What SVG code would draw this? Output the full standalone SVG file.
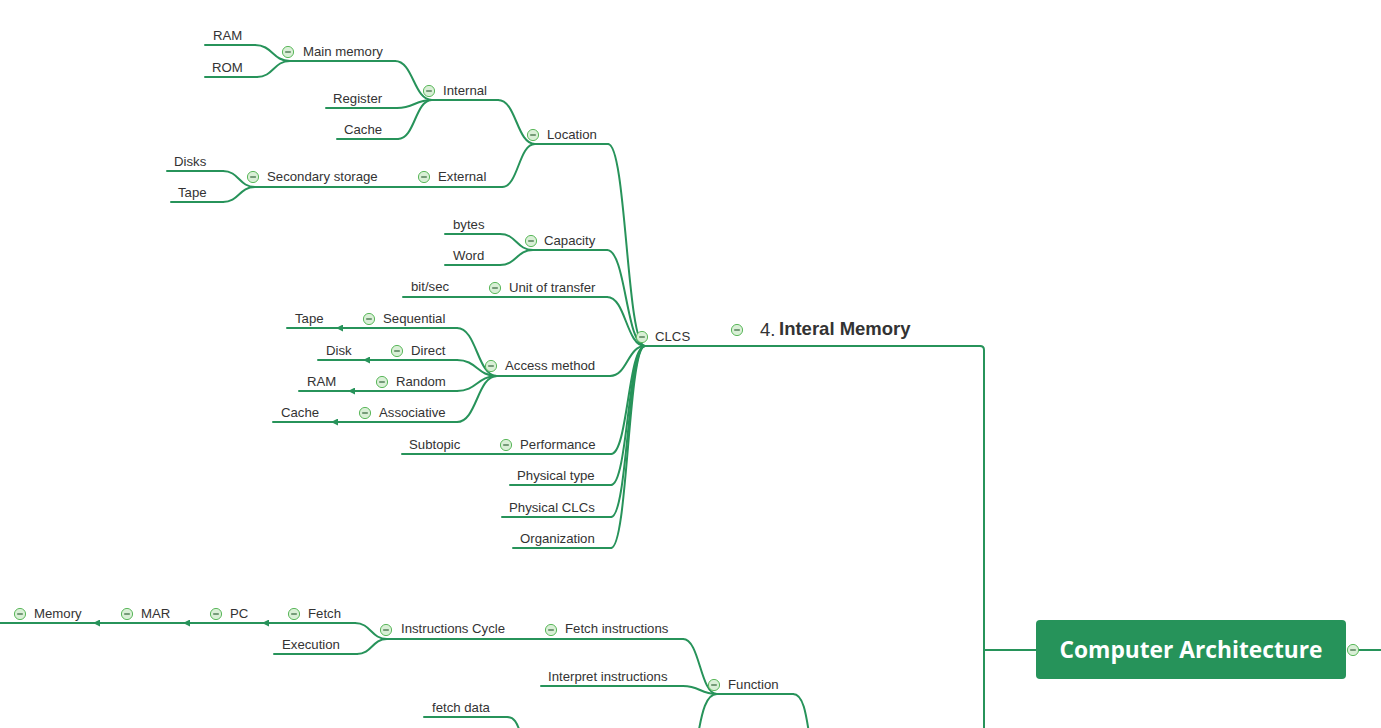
<svg xmlns="http://www.w3.org/2000/svg" xmlns:xlink="http://www.w3.org/1999/xlink" width="1381" height="728" viewBox="0 0 1381 728">
<style>
text{font-family:"Liberation Sans",Arial,sans-serif;font-size:13.2px;fill:#333333}
.ul,.cn{fill:none;stroke:#27935a;stroke-width:2;stroke-linecap:round}
.ar{fill:none;stroke:#27935a;stroke-width:2;marker-end:url(#arr)}
.big{font-size:18.5px}
.bold{font-weight:bold}
.root{font-family:"Open Sans","Liberation Sans",sans-serif;font-size:23px;font-weight:bold;fill:#ffffff}
</style>
<defs>
<marker id="arr" markerUnits="userSpaceOnUse" markerWidth="8" markerHeight="7" refX="7" refY="3.5" orient="auto">
<path d="M0,0 L7,3.5 L0,7 z" fill="#27935a"/>
</marker>
<g id="mi">
<circle r="5.6" fill="#d9efd6" stroke="#5cb85c" stroke-width="1"/>
<line x1="-2.8" y1="0" x2="2.8" y2="0" stroke="#3f6f45" stroke-width="1.3"/>
</g>
</defs>
<rect width="1381" height="728" fill="#ffffff"/>

<g id="connectors">
<path class="cn" d="M290,61 C272.5,61 272.5,45 255,45"/>
<path class="cn" d="M290,61 C273.5,61 273.5,77 257,77"/>
<path class="cn" d="M432,100 C413.5,100 413.5,61 395,61"/>
<path class="cn" d="M432,100 C414.5,100 414.5,108 397,108"/>
<path class="cn" d="M432,100 C415,100 415,139 398,139"/>
<path class="cn" d="M535,144 C516.5,144 516.5,100 498,100"/>
<path class="cn" d="M535,144 C518.5,144 518.5,187 502,187"/>
<path class="cn" d="M255,187 C239,187 239,171 223,171"/>
<path class="cn" d="M255,187 C239,187 239,202 223,202"/>
<path class="cn" d="M533,250 C516.5,250 516.5,234 500,234"/>
<path class="cn" d="M533,250 C516.5,250 516.5,265 500,265"/>
<path class="cn" d="M497,376 C477,376 477,328 457,328"/>
<path class="cn" d="M497,376 C477,376 477,360 457,360"/>
<path class="cn" d="M497,376 C477,376 477,391 457,391"/>
<path class="cn" d="M497,376 C477,376 477,422 457,422"/>
<path class="cn" d="M645,346 C626.5,346 626.5,144 608,144"/>
<path class="cn" d="M645,346 C626,346 626,250 607,250"/>
<path class="cn" d="M645,346 C626,346 626,297 607,297"/>
<path class="cn" d="M645,346 C627.5,346 627.5,376 610,376"/>
<path class="cn" d="M645,346 C628,346 628,454 611,454"/>
<path class="cn" d="M645,346 C628,346 628,485 611,485"/>
<path class="cn" d="M645,346 C628,346 628,517 611,517"/>
<path class="cn" d="M645,346 C628,346 628,548 611,548"/>
<path class="cn" d="M980,346 Q984,346 984,350 V728"/>
<path class="cn" d="M984,650 H1036"/>
<path class="cn" d="M1359,650 H1381"/>
<path class="cn" d="M387,639 C371,639 371,623 355,623"/>
<path class="cn" d="M387,639 C372,639 372,654 357,654"/>
<path class="cn" d="M717,694 C700,694 700,639 683,639"/>
<path class="cn" d="M717,694 C700,694 700,686 683,686"/>
<path class="cn" d="M717,694 C706,694 702,712 698,735"/>
<path class="cn" d="M793,694 C803,694 806,712 810,740"/>
<path class="cn" d="M507,717 C514,717 517,722 521,735"/>
<path class="ar" d="M358,328 H336"/>
<path class="ar" d="M385,360 H363"/>
<path class="ar" d="M370,391 H348"/>
<path class="ar" d="M352,422 H331"/>
<path class="ar" d="M115,623 H93"/>
<path class="ar" d="M205,623 H183"/>
<path class="ar" d="M283,623 H262"/>
</g>

<g id="n-ram"><path class="ul" d="M205,45 H255"/><text x="213" y="40">RAM</text></g>
<g id="n-rom"><path class="ul" d="M205,77 H257"/><text x="212" y="72">ROM</text></g>
<g id="n-main-memory"><path class="ul" d="M290,61 H395"/><use xlink:href="#mi" x="288" y="52"/><text x="303" y="56">Main memory</text></g>
<g id="n-register"><path class="ul" d="M326,108 H397"/><text x="333" y="103">Register</text></g>
<g id="n-cache-1"><path class="ul" d="M337,139 H398"/><text x="344" y="134">Cache</text></g>
<g id="n-internal"><path class="ul" d="M432,100 H498"/><use xlink:href="#mi" x="429" y="91"/><text x="443" y="95">Internal</text></g>
<g id="n-location"><path class="ul" d="M535,144 H608"/><use xlink:href="#mi" x="533" y="135"/><text x="547" y="139">Location</text></g>
<g id="n-disks"><path class="ul" d="M167,171 H223"/><text x="174" y="166">Disks</text></g>
<g id="n-tape-1"><path class="ul" d="M171,202 H223"/><text x="178" y="197">Tape</text></g>
<g id="n-secondary-storage"><path class="ul" d="M255,187 H410"/><use xlink:href="#mi" x="253" y="177"/><text x="267" y="181">Secondary storage</text></g>
<g id="n-external"><path class="ul" d="M410,187 H502"/><use xlink:href="#mi" x="424" y="177"/><text x="438" y="181">External</text></g>

<g id="n-bytes"><path class="ul" d="M445,234 H500"/><text x="453" y="229">bytes</text></g>
<g id="n-word"><path class="ul" d="M445,265 H500"/><text x="453" y="260">Word</text></g>
<g id="n-capacity"><path class="ul" d="M533,250 H607"/><use xlink:href="#mi" x="531" y="241"/><text x="544" y="245">Capacity</text></g>
<g id="n-bitsec"><path class="ul" d="M403,297 H480"/><text x="411" y="291">bit/sec</text></g>
<g id="n-unit"><path class="ul" d="M480,297 H607"/><use xlink:href="#mi" x="495" y="288"/><text x="509" y="292">Unit of transfer</text></g>
<g id="n-tape-2"><path class="ul" d="M287,328 H336"/><text x="295" y="323">Tape</text></g>
<g id="n-sequential"><path class="ul" d="M358,328 H457"/><use xlink:href="#mi" x="369" y="319"/><text x="383" y="323">Sequential</text></g>
<g id="n-disk"><path class="ul" d="M318,360 H363"/><text x="326" y="355">Disk</text></g>
<g id="n-direct"><path class="ul" d="M385,360 H457"/><use xlink:href="#mi" x="397" y="351"/><text x="411" y="355">Direct</text></g>
<g id="n-ram-2"><path class="ul" d="M299,391 H348"/><text x="307" y="386">RAM</text></g>
<g id="n-random"><path class="ul" d="M370,391 H457"/><use xlink:href="#mi" x="382" y="382"/><text x="396" y="386">Random</text></g>
<g id="n-cache-2"><path class="ul" d="M273,422 H331"/><text x="281" y="417">Cache</text></g>
<g id="n-associative"><path class="ul" d="M352,422 H457"/><use xlink:href="#mi" x="365" y="413"/><text x="379" y="417">Associative</text></g>
<g id="n-access"><path class="ul" d="M497,376 H610"/><use xlink:href="#mi" x="491" y="366"/><text x="505" y="370">Access method</text></g>
<g id="n-subtopic"><path class="ul" d="M402,454 H490"/><text x="409" y="449">Subtopic</text></g>
<g id="n-performance"><path class="ul" d="M490,454 H611"/><use xlink:href="#mi" x="506" y="445"/><text x="520" y="449">Performance</text></g>
<g id="n-physical-type"><path class="ul" d="M510,485 H611"/><text x="517" y="480">Physical type</text></g>
<g id="n-physical-clcs"><path class="ul" d="M502,517 H611"/><text x="509" y="512">Physical CLCs</text></g>
<g id="n-organization"><path class="ul" d="M513,548 H611"/><text x="520" y="543">Organization</text></g>
<g id="n-clcs"><path class="ul" d="M645,346 H720"/><use xlink:href="#mi" x="642" y="337"/><text x="655" y="341">CLCS</text></g>
<g id="n-interal-memory"><path class="ul" d="M720,346 H980"/><use xlink:href="#mi" x="737" y="330"/><text x="760" y="336" class="big">4.</text><text x="779" y="335" class="big bold">Interal Memory</text></g>

<g id="n-root"><rect x="1036" y="620" width="310" height="59" rx="4" fill="#26935a"/><text x="1191" y="658" text-anchor="middle" class="root" textLength="263" lengthAdjust="spacingAndGlyphs">Computer Architecture</text><use xlink:href="#mi" x="1353" y="650"/></g>

<g id="n-memory"><path class="ul" d="M0,623 H93"/><use xlink:href="#mi" x="20" y="614"/><text x="34" y="618">Memory</text></g>
<g id="n-mar"><path class="ul" d="M115,623 H183"/><use xlink:href="#mi" x="127" y="614"/><text x="141" y="618">MAR</text></g>
<g id="n-pc"><path class="ul" d="M205,623 H262"/><use xlink:href="#mi" x="216" y="614"/><text x="230" y="618">PC</text></g>
<g id="n-fetch"><path class="ul" d="M283,623 H355"/><use xlink:href="#mi" x="294" y="614"/><text x="308" y="618">Fetch</text></g>
<g id="n-execution"><path class="ul" d="M274,654 H357"/><text x="282" y="649">Execution</text></g>
<g id="n-instructions-cycle"><path class="ul" d="M387,639 H540"/><use xlink:href="#mi" x="386" y="630"/><text x="401" y="633">Instructions Cycle</text></g>
<g id="n-fetch-instructions"><path class="ul" d="M540,639 H683"/><use xlink:href="#mi" x="551" y="630"/><text x="565" y="633">Fetch instructions</text></g>
<g id="n-interpret"><path class="ul" d="M541,686 H683"/><text x="548" y="681">Interpret instructions</text></g>
<g id="n-function"><path class="ul" d="M717,694 H793"/><use xlink:href="#mi" x="714" y="685"/><text x="728" y="689">Function</text></g>
<g id="n-fetch-data"><path class="ul" d="M424,717 H507"/><text x="432" y="712">fetch data</text></g>
</svg>
